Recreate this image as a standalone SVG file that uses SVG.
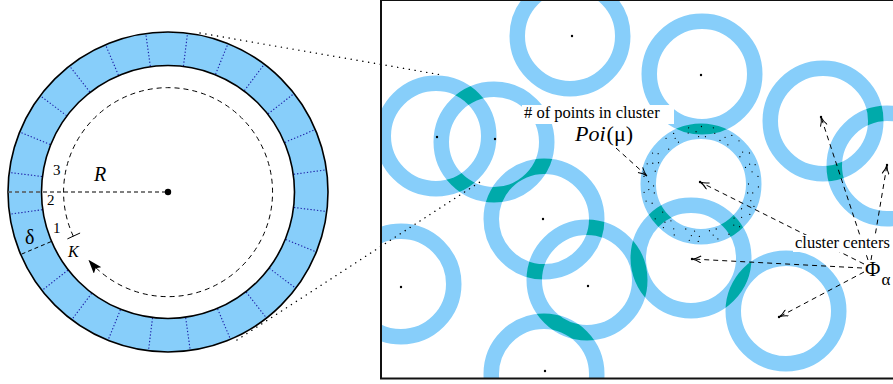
<svg xmlns="http://www.w3.org/2000/svg" width="893" height="384" viewBox="0 0 893 384">
<style>
.ring{fill:none;stroke:#87CEFA;stroke-width:15.5}
.ov{fill:none;stroke:#00AAAA;stroke-width:15.5}
.seg{stroke:#1c1ca6;stroke-width:1.1;stroke-dasharray:1.3 2}
.dash{fill:none;stroke:#000;stroke-width:1;stroke-dasharray:5 4}
.zoom{fill:none;stroke:#000;stroke-width:1.4;stroke-dasharray:0.1 5.8;stroke-linecap:round}
.pt{fill:#000}
.pts{fill:none;stroke:#000;stroke-width:1.3;stroke-linecap:round}
.t{font-family:"Liberation Serif","Times New Roman",serif;fill:#000}
.it{font-style:italic}
</style>
<defs>
<marker id="fa" viewBox="0 0 14 10" refX="13" refY="5" markerWidth="14" markerHeight="10" orient="auto" markerUnits="userSpaceOnUse"><path d="M0,0 L14,5 L0,10 L3,5 z" fill="#000"/></marker>
<marker id="oa" viewBox="0 0 10 8" refX="9.5" refY="4" markerWidth="10" markerHeight="8" orient="auto" markerUnits="userSpaceOnUse"><path d="M0.5,0.5 Q5,3.4 9.5,4 Q5,4.6 0.5,7.5" fill="none" stroke="#000" stroke-width="1"/></marker>
<clipPath id="panel"><rect x="381" y="0" width="520" height="379"/></clipPath>
<clipPath id="cH"><path clip-rule="evenodd" d="M640.5,184a60.5,60.5 0 1 0 121,0a60.5,60.5 0 1 0 -121,0zM656,184a45,45 0 1 0 90,0a45,45 0 1 0 -90,0z"/></clipPath>
<clipPath id="cD"><path clip-rule="evenodd" d="M826.5,166a60.5,60.5 0 1 0 121,0a60.5,60.5 0 1 0 -121,0zM842,166a45,45 0 1 0 90,0a45,45 0 1 0 -90,0z"/></clipPath>
<clipPath id="cF"><path clip-rule="evenodd" d="M433.5,142a60.5,60.5 0 1 0 121,0a60.5,60.5 0 1 0 -121,0zM449,142a45,45 0 1 0 90,0a45,45 0 1 0 -90,0z"/></clipPath>
<clipPath id="cG"><path clip-rule="evenodd" d="M483.5,219a60.5,60.5 0 1 0 121,0a60.5,60.5 0 1 0 -121,0zM499,219a45,45 0 1 0 90,0a45,45 0 1 0 -90,0z"/></clipPath>
<clipPath id="cI"><path clip-rule="evenodd" d="M526.5,280a60.5,60.5 0 1 0 121,0a60.5,60.5 0 1 0 -121,0zM542,280a45,45 0 1 0 90,0a45,45 0 1 0 -90,0z"/></clipPath>
<clipPath id="cL"><path clip-rule="evenodd" d="M630.5,258a60.5,60.5 0 1 0 121,0a60.5,60.5 0 1 0 -121,0zM646,258a45,45 0 1 0 90,0a45,45 0 1 0 -90,0z"/></clipPath>
<clipPath id="cK"><path clip-rule="evenodd" d="M483.5,374a60.5,60.5 0 1 0 121,0a60.5,60.5 0 1 0 -121,0zM499,374a45,45 0 1 0 90,0a45,45 0 1 0 -90,0z"/></clipPath>
<clipPath id="cM"><path clip-rule="evenodd" d="M725.5,311a60.5,60.5 0 1 0 121,0a60.5,60.5 0 1 0 -121,0zM741,311a45,45 0 1 0 90,0a45,45 0 1 0 -90,0z"/></clipPath>
</defs>
<rect width="893" height="384" fill="#fff"/>

<!-- Left: ring detail -->
<g id="ring-detail">
<circle cx="168" cy="192" r="160" fill="#87CEFA"/>
<circle cx="168" cy="192" r="126.5" fill="#fff"/>
<g id="segments">
<line class="seg" x1="293.8" y1="174.3" x2="325.5" y2="169.9"/>
<line class="seg" x1="284.9" y1="142.4" x2="314.4" y2="129.9"/>
<line class="seg" x1="268.1" y1="113.8" x2="293.3" y2="94.1"/>
<line class="seg" x1="244.4" y1="90.6" x2="263.7" y2="65.0"/>
<line class="seg" x1="215.6" y1="74.2" x2="227.6" y2="44.6"/>
<line class="seg" x1="183.5" y1="66.0" x2="187.4" y2="34.2"/>
<line class="seg" x1="150.3" y1="66.2" x2="145.9" y2="34.5"/>
<line class="seg" x1="118.4" y1="75.1" x2="105.9" y2="45.6"/>
<line class="seg" x1="89.8" y1="91.9" x2="70.1" y2="66.7"/>
<line class="seg" x1="66.6" y1="115.6" x2="41.0" y2="96.3"/>
<line class="seg" x1="50.2" y1="144.4" x2="20.6" y2="132.4"/>
<line class="seg" x1="42.0" y1="176.5" x2="10.2" y2="172.6"/>
<line class="seg" x1="42.2" y1="209.7" x2="10.5" y2="214.1"/>
<line class="seg" x1="67.9" y1="270.2" x2="42.7" y2="289.9"/>
<line class="seg" x1="91.6" y1="293.4" x2="72.3" y2="319.0"/>
<line class="seg" x1="120.4" y1="309.8" x2="108.4" y2="339.4"/>
<line class="seg" x1="152.5" y1="318.0" x2="148.6" y2="349.8"/>
<line class="seg" x1="185.7" y1="317.8" x2="190.1" y2="349.5"/>
<line class="seg" x1="217.6" y1="308.9" x2="230.1" y2="338.4"/>
<line class="seg" x1="246.2" y1="292.1" x2="265.9" y2="317.3"/>
<line class="seg" x1="269.4" y1="268.4" x2="295.0" y2="287.7"/>
<line class="seg" x1="285.8" y1="239.6" x2="315.4" y2="251.6"/>
<line class="seg" x1="294.0" y1="207.5" x2="325.8" y2="211.4"/>
</g>
<line x1="51.1" y1="241.6" x2="21.6" y2="254.1" stroke="#000" stroke-width="1" stroke-dasharray="4 3"/>
<circle cx="168" cy="192" r="160" fill="none" stroke="#000" stroke-width="1.6"/>
<circle cx="168" cy="192" r="126.5" fill="none" stroke="#000" stroke-width="1.6"/>
<line x1="8" y1="192" x2="168" y2="192" stroke="#555" stroke-width="1.5" stroke-dasharray="4 3"/>
<circle cx="168" cy="192" r="3.2" fill="#000"/>
<path class="dash" stroke-dasharray="7 5" d="M73.3,236.2 A104.5,104.5 0 1 1 89.1,260.6" marker-end="url(#fa)"/>
<line x1="80.1" y1="233.0" x2="67.4" y2="238.9" stroke="#000" stroke-width="1"/>
<text class="t" x="53" y="175" font-size="15">3</text>
<text class="t" x="47" y="205" font-size="15">2</text>
<text class="t" x="53" y="233" font-size="15">1</text>
<text class="t it" x="94" y="181" font-size="20">R</text>
<text class="t" x="25" y="244" font-size="20">δ</text>
<text class="t it" x="68" y="257" font-size="16">K</text>
</g>

<!-- Right: cluster panel -->
<g id="panel-content" clip-path="url(#panel)">
<g id="rings">
<circle id="ringA" class="ring" cx="570" cy="36" r="52.75"/>
<circle id="ringB" class="ring" cx="702" cy="74" r="52.75"/>
<circle id="ringC" class="ring" cx="823" cy="121" r="52.75"/>
<circle id="ringD" class="ring" cx="887" cy="166" r="52.75"/>
<circle id="ringE" class="ring" cx="436" cy="136" r="52.75"/>
<circle id="ringF" class="ring" cx="494" cy="142" r="52.75"/>
<circle id="ringG" class="ring" cx="544" cy="219" r="52.75"/>
<circle id="ringH" class="ring" cx="701" cy="184" r="52.75"/>
<circle id="ringI" class="ring" cx="587" cy="280" r="52.75"/>
<circle id="ringJ" class="ring" cx="401" cy="284" r="52.75"/>
<circle id="ringK" class="ring" cx="544" cy="374" r="52.75"/>
<circle id="ringL" class="ring" cx="691" cy="258" r="52.75"/>
<circle id="ringM" class="ring" cx="786" cy="311" r="52.75"/>
</g>
<g id="overlaps">
<circle class="ov" cx="702" cy="74" r="52.75" clip-path="url(#cH)"/>
<circle class="ov" cx="823" cy="121" r="52.75" clip-path="url(#cD)"/>
<circle class="ov" cx="436" cy="136" r="52.75" clip-path="url(#cF)"/>
<circle class="ov" cx="494" cy="142" r="52.75" clip-path="url(#cG)"/>
<circle class="ov" cx="544" cy="219" r="52.75" clip-path="url(#cI)"/>
<circle class="ov" cx="701" cy="184" r="52.75" clip-path="url(#cL)"/>
<circle class="ov" cx="587" cy="280" r="52.75" clip-path="url(#cK)"/>
<circle class="ov" cx="587" cy="280" r="52.75" clip-path="url(#cL)"/>
<circle class="ov" cx="691" cy="258" r="52.75" clip-path="url(#cM)"/>
</g>
<g id="cluster-points">
<circle class="pts" cx="701" cy="184" r="47.5" stroke-dasharray="0 9 0 17 0 12 0 21 0 7 0 15"/>
<circle class="pts" cx="701" cy="184" r="52.5" stroke-dasharray="0 14 0 8 0 19 0 11 0 23" stroke-dashoffset="5"/>
<circle class="pts" cx="701" cy="184" r="57.5" stroke-dasharray="0 12 0 20 0 9 0 16 0 13" stroke-dashoffset="9"/>
</g>
<g id="centers">
<circle class="pt" cx="572" cy="36" r="1.2"/>
<circle class="pt" cx="701" cy="75" r="1.2"/>
<circle class="pt" cx="821" cy="117" r="1.2"/>
<circle class="pt" cx="887" cy="165" r="1.2"/>
<circle class="pt" cx="437" cy="137" r="1.2"/>
<circle class="pt" cx="495" cy="139" r="1.2"/>
<circle class="pt" cx="543" cy="219" r="1.2"/>
<circle class="pt" cx="700" cy="182" r="1.2"/>
<circle class="pt" cx="588" cy="286" r="1.2"/>
<circle class="pt" cx="401" cy="287" r="1.2"/>
<circle class="pt" cx="545" cy="371" r="1.2"/>
<circle class="pt" cx="692" cy="259" r="1.2"/>
<circle class="pt" cx="779" cy="317" r="1.2"/>
</g>
</g>

<g id="connectors">
<line class="dash" x1="616" y1="148" x2="647" y2="176" marker-end="url(#oa)"/>
<line class="dash" x1="864" y1="264" x2="700" y2="182" marker-end="url(#oa)"/>
<line class="dash" x1="862" y1="268" x2="692" y2="259" marker-end="url(#oa)"/>
<line class="dash" x1="864" y1="272" x2="779" y2="317" marker-end="url(#oa)"/>
<line class="dash" x1="868" y1="260" x2="821" y2="117" marker-end="url(#oa)"/>
<line class="dash" x1="871" y1="260" x2="887" y2="165" marker-end="url(#oa)"/>
<line class="zoom" x1="200" y1="33" x2="442" y2="75"/>
<line class="zoom" x1="237" y1="340" x2="480" y2="182"/>
</g>

<g id="label-points">
<rect x="522" y="105" width="152" height="19" fill="#fff"/>
<text class="t" x="524" y="118" font-size="16.5"># of points in cluster</text>
<text class="t" x="575" y="141" font-size="22"><tspan font-style="italic">Poi</tspan><tspan dx="1">(μ)</tspan></text>
</g>
<g id="label-centers">
<rect x="793" y="235" width="100" height="17" fill="#fff"/>
<text class="t" x="795" y="248" font-size="16.5">cluster centers</text>
<text class="t" x="865" y="276" font-size="21">Φ</text>
<text class="t" x="881.5" y="285" font-size="17">α</text>
</g>
<rect id="panel-frame" x="381" y="0" width="530" height="378.5" fill="none" stroke="#111" stroke-width="2"/>
</svg>
